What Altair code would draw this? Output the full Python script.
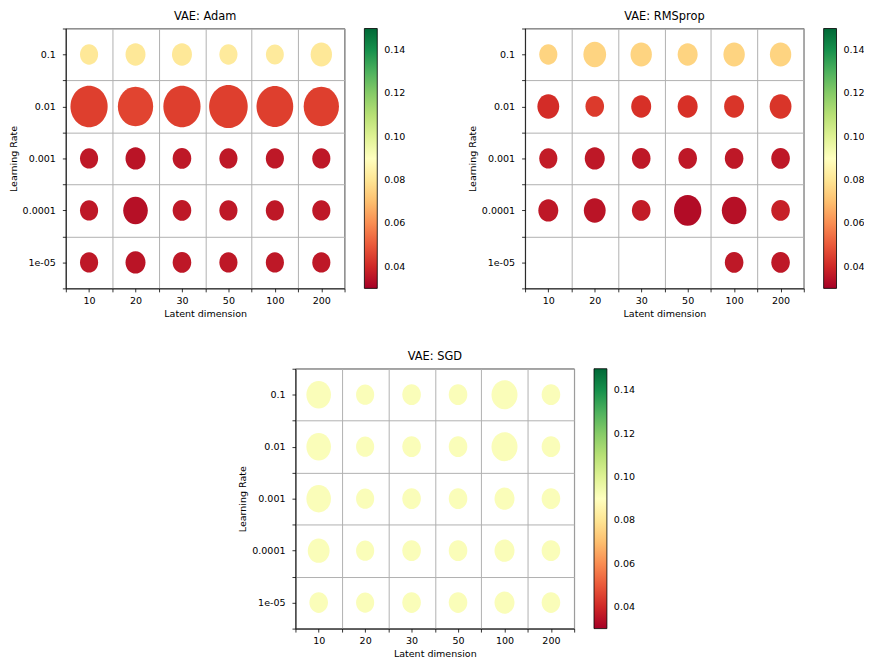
import json
import altair as alt
import pandas as pd

# ---------------- data ----------------
latent_dims = ["10", "20", "30", "50", "100", "200"]
learning_rates = ["0.1", "0.01", "0.001", "0.0001", "1e-05"]

# mean reconstruction error (colour), rows = learning rate, cols = latent dim
adam_mse = [
    [0.081, 0.081, 0.081, 0.082, 0.082, 0.081],
    [0.045, 0.046, 0.045, 0.045, 0.045, 0.045],
    [0.036, 0.035, 0.036, 0.036, 0.036, 0.036],
    [0.036, 0.034, 0.036, 0.036, 0.036, 0.036],
    [0.036, 0.035, 0.036, 0.036, 0.036, 0.036],
]
rmsprop_mse = [
    [0.075, 0.075, 0.075, 0.075, 0.075, 0.075],
    [0.041, 0.044, 0.042, 0.042, 0.043, 0.043],
    [0.037, 0.036, 0.036, 0.036, 0.036, 0.036],
    [0.036, 0.035, 0.037, 0.033, 0.034, 0.038],
    [None, None, None, None, 0.036, 0.036],
]
sgd_mse = [
    [0.0915, 0.0915, 0.0915, 0.0915, 0.0915, 0.0915],
    [0.0915, 0.0915, 0.0915, 0.0915, 0.0915, 0.0915],
    [0.0915, 0.0915, 0.0915, 0.0915, 0.0915, 0.0915],
    [0.0915, 0.0915, 0.0915, 0.0915, 0.0915, 0.0915],
    [0.0915, 0.0915, 0.0915, 0.0915, 0.0915, 0.0915],
]

# relative spread (marker diameter as a fraction of the cell)
adam_spread = [
    [0.39, 0.43, 0.43, 0.39, 0.385, 0.46],
    [0.80, 0.76, 0.80, 0.83, 0.79, 0.76],
    [0.39, 0.43, 0.40, 0.39, 0.39, 0.39],
    [0.39, 0.53, 0.40, 0.39, 0.39, 0.39],
    [0.39, 0.43, 0.40, 0.39, 0.39, 0.39],
]
rmsprop_spread = [
    [0.39, 0.49, 0.46, 0.43, 0.46, 0.46],
    [0.47, 0.40, 0.43, 0.43, 0.43, 0.47],
    [0.39, 0.43, 0.40, 0.40, 0.40, 0.40],
    [0.43, 0.47, 0.40, 0.59, 0.53, 0.40],
    [None, None, None, None, 0.40, 0.40],
]
sgd_spread = [
    [0.53, 0.39, 0.40, 0.40, 0.56, 0.40],
    [0.53, 0.39, 0.40, 0.40, 0.56, 0.40],
    [0.53, 0.39, 0.40, 0.40, 0.43, 0.40],
    [0.47, 0.39, 0.40, 0.40, 0.43, 0.40],
    [0.40, 0.39, 0.40, 0.40, 0.43, 0.40],
]

colorbar_ticks = [0.04, 0.06, 0.08, 0.10, 0.12, 0.14]
color_min, color_max = 0.03, 0.15
# RdYlGn colormap stops
rdylgn = ["#a50026", "#d73027", "#f46d43", "#fdae61", "#fee08b", "#ffffbf",
          "#d9ef8b", "#a6d96a", "#66bd63", "#1a9850", "#006837"]
color_stops = [color_min + i * (color_max - color_min) / (len(rdylgn) - 1)
               for i in range(len(rdylgn))]


def build_df(mse, spread):
    rows = []
    for i, lr in enumerate(learning_rates):
        for j, ld in enumerate(latent_dims):
            v = mse[i][j]
            if v is None:
                continue
            rows.append({"lr_idx": i, "ld_idx": j, "lr": lr, "ld": ld,
                         "mse": v, "spread": spread[i][j]})
    return pd.DataFrame(rows)


W, H = 281, 262
cell_h = H / len(learning_rates)
cell_w = W / len(latent_dims)
ratio = cell_w / cell_h
ellipse = f"M-{ratio:.4f},0A{ratio:.4f},1,0,1,1,{ratio:.4f},0A{ratio:.4f},1,0,1,1,-{ratio:.4f},0Z"

grid_op = {"condition": {"test": "datum.value % 1 === 0", "value": 0}, "value": 1}

x_vals = [k / 2 - 0.5 for k in range(2 * len(latent_dims) + 1)]
y_vals = [k / 2 - 0.5 for k in range(2 * len(learning_rates) + 1)]


def panel(name, mse, spread):
    df = build_df(mse, spread)
    x_axis = alt.Axis(
        values=x_vals,
        labelExpr=f"datum.value % 1 === 0 ? {json.dumps(latent_dims)}[datum.value] : ''",
        title="Latent dimension",
        grid=True, gridOpacity=grid_op, labelFlush=False, labelOverlap=False,
    )
    y_axis = alt.Axis(
        values=y_vals,
        labelExpr=f"datum.value % 1 === 0 ? {json.dumps(learning_rates)}[datum.value] : ''",
        title="Learning Rate", labelPadding=7,
        grid=True, gridOpacity=grid_op, labelFlush=False, labelOverlap=False,
    )
    return alt.Chart(df).mark_point(
        shape=ellipse, filled=True, opacity=1, strokeWidth=0
    ).encode(
        x=alt.X("ld_idx:Q", axis=x_axis,
                scale=alt.Scale(domain=[-0.5, len(latent_dims) - 0.5], nice=False, zero=False)),
        y=alt.Y("lr_idx:Q", axis=y_axis,
                scale=alt.Scale(domain=[-0.5, len(learning_rates) - 0.5], nice=False,
                                zero=False, reverse=True)),
        color=alt.Color("mse:Q",
                        scale=alt.Scale(domain=color_stops, range=rdylgn, interpolate="rgb"),
                        legend=alt.Legend(title=None, values=colorbar_ticks, format=".2f",
                                          gradientLength=H, gradientThickness=13, offset=20,
                                          labelOffset=7, labelFontSize=9.6, labelColor="black",
                                          gradientStrokeColor="black", gradientStrokeWidth=0.8,
                                          direction="vertical", orient="right")),
        size=alt.Size("spread:Q",
                      scale=alt.Scale(type="pow", exponent=2, domain=[0, 1],
                                      range=[0, cell_h ** 2]),
                      legend=None),
        tooltip=["ld:N", "lr:N", "mse:Q"],
    ).properties(
        width=W, height=H,
        title=alt.TitleParams(name, fontSize=11.5, fontWeight="normal", offset=1,
                              color="black", font="DejaVu Sans"),
    )


adam = panel("VAE: Adam", adam_mse, adam_spread)
rms = panel("VAE: RMSprop", rmsprop_mse, rmsprop_spread)
sgd = panel("VAE: SGD", sgd_mse, sgd_spread)

top = alt.hconcat(adam, rms, spacing=60).resolve_scale(color="independent")
chart = alt.vconcat(top, sgd, spacing=32, center=True).resolve_scale(
    color="independent"
).properties(
    padding={"left": -1, "top": 0, "right": -2, "bottom": 0}
).configure(
    font="DejaVu Sans"
).configure_view(
    stroke="black", strokeWidth=0.8
).configure_axis(
    labelFontSize=9.6, titleFontSize=9.6, titleFontWeight="normal",
    labelColor="black", titleColor="black", tickColor="black", domainColor="black",
    tickSize=3.5, tickWidth=0.8, domainWidth=0.8, gridColor="#b0b0b0", gridWidth=1,
    labelPadding=3.5, titlePadding=4,
)

chart.save("out.html", embed_options={"renderer": "svg", "actions": False})
